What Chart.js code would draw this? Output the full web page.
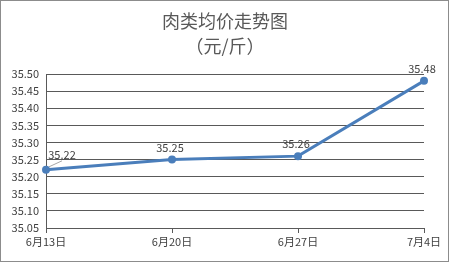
<!DOCTYPE html>
<html>
<head>
<meta charset="utf-8">
<script src="https://cdn.jsdelivr.net/npm/chart.js@4/dist/chart.umd.min.js"></script>
<style>
  html, body { margin: 0; padding: 0; background: #fff; }
  #wrap { width: 449px; height: 262px; }
</style>
</head>
<body>
<div id="wrap"><canvas id="chart" width="449" height="262"></canvas></div>
<script>
// chart data
var dates = ['6月13日', '6月20日', '6月27日', '7月4日'];
var prices = [35.22, 35.25, 35.26, 35.48];
var titleLines = ['肉类均价走势图', '（元/斤）'];

var lineColor = '#4a7ebb';
var textColor = '#404040';
var fontFamily = '"Microsoft YaHei", "Noto Sans CJK SC", "DejaVu Sans", sans-serif';

// draws title, outer border and value labels
var decorPlugin = {
    id: 'decor',
    afterDraw: function (chart) {
        var ctx = chart.ctx;
        ctx.save();

        // outer border
        ctx.strokeStyle = '#8c8c8c';
        ctx.lineWidth = 1;
        ctx.strokeRect(0.5, 0.5, chart.width - 1, chart.height - 1);

        // title
        ctx.fillStyle = '#595959';
        ctx.font = '18px ' + fontFamily;
        ctx.textAlign = 'center';
        ctx.textBaseline = 'middle';
        ctx.fillText(titleLines[0], 225, 21);
        ctx.fillText(titleLines[1], 225, 46);

        // value labels above points
        var meta = chart.getDatasetMeta(0);
        ctx.font = '11px ' + fontFamily;
        ctx.fillStyle = textColor;
        meta.data.forEach(function (pt, i) {
            var txt = prices[i].toFixed(2);
            if (i === 0) {
                // first label is moved right, with a leader line
                ctx.strokeStyle = '#a6a6a6';
                ctx.beginPath();
                ctx.moveTo(pt.x + 3, pt.y - 3);
                ctx.lineTo(pt.x + 16, pt.y - 9);
                ctx.stroke();
                ctx.fillText(txt, pt.x + 16, pt.y - 15);
            } else {
                ctx.fillText(txt, pt.x - 2, pt.y - 12);
            }
        });
        ctx.restore();
    }
};

var chart = new Chart(document.getElementById('chart').getContext('2d'), {
    type: 'line',
    data: {
        labels: dates,
        datasets: [{
            data: prices,
            borderColor: lineColor,
            backgroundColor: lineColor,
            borderWidth: 3,
            pointRadius: 4,
            pointBackgroundColor: lineColor,
            pointBorderWidth: 0,
            tension: 0
        }]
    },
    options: {
        responsive: false,
        animation: false,
        layout: { padding: { left: 0, right: 25, top: 74, bottom: 0 } },
        plugins: {
            legend: { display: false },
            tooltip: { enabled: false }
        },
        scales: {
            x: {
                offset: false,
                grid: {
                    drawOnChartArea: false,
                    drawTicks: true,
                    tickLength: 5,
                    color: '#595959'
                },
                border: { color: '#595959' },
                ticks: {
                    color: textColor,
                    font: { size: 11, family: fontFamily },
                    maxRotation: 0,
                    padding: 2
                },
                afterFit: function (scale) { scale.height = 34; }
            },
            y: {
                min: 35.05,
                max: 35.50,
                grid: {
                    color: '#595959',
                    drawTicks: false
                },
                border: { color: '#595959' },
                ticks: {
                    stepSize: 0.05,
                    color: textColor,
                    font: { size: 11, family: fontFamily },
                    padding: 7,
                    callback: function (v) { return v.toFixed(2); }
                },
                afterFit: function (scale) { scale.width = 46; }
            }
        }
    },
    plugins: [decorPlugin]
});
</script>
</body>
</html>
